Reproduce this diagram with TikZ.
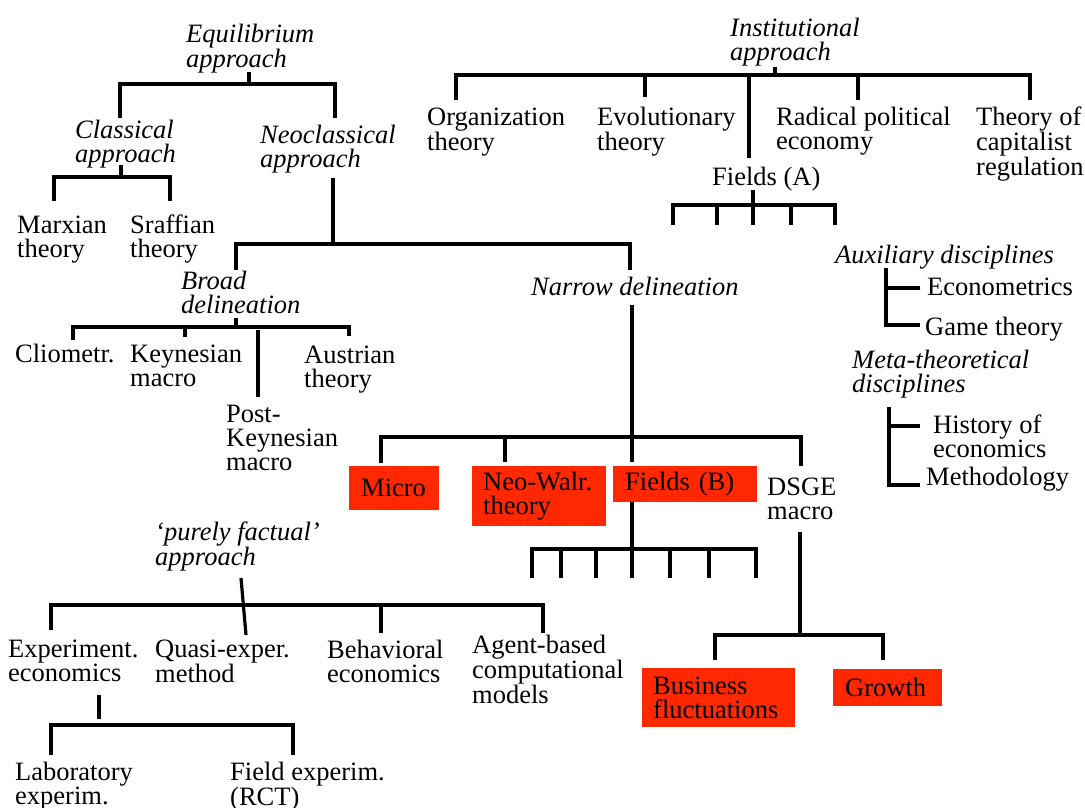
\documentclass[tikz,border=0pt]{standalone}
\usepackage{fontspec}
\setmainfont{Liberation Serif}
\definecolor{boxred}{RGB}{255,40,0}
\newcommand\myst{\rule{0pt}{20pt}}
\begin{document}
\begin{tikzpicture}[x=1pt,y=-1pt,
  txt/.style={anchor=north west, inner sep=0pt, align=left, font=\fontsize{26.5}{24}\selectfont},
  itx/.style={txt, font=\fontsize{26.5}{24}\selectfont\itshape},
  redbox/.style={anchor=north west, fill=boxred, inner ysep=0pt, align=left, font=\fontsize{26.5}{24}\selectfont},
  conn/.style={line width=3.2pt}]
\useasboundingbox[fill=white] (0,0) rectangle (1085,808);

% ---------- text nodes ----------
\node[itx] (equi) at (186,22) {\myst Equilibrium\\approach};
\node[itx] (clas) at (75,118) {\myst Classical\\approach};
\node[itx] (neo) at (260,123) {\myst Neoclassical\\approach};
\node[txt] (marx) at (17,213) {\myst Marxian\\theory};
\node[txt] (sraf) at (130,213) {\myst Sraffian\\theory};
\node[itx] (broad) at (181,269) {\myst Broad\\delineation};
\node[txt] (clio) at (15,342) {\myst Cliometr.};
\node[txt] (keyn) at (130,342) {\myst Keynesian\\macro};
\node[txt] (aust) at (304,343) {\myst Austrian\\theory};
\node[txt] (postk) at (226,402) {\myst Post-\\Keynesian\\macro};
\node[itx] (narrow) at (531,275) {\myst Narrow delineation};

\node[itx] (inst) at (730,16) {\myst Institutional\\approach};
\node[txt] (org) at (427,105) {\myst Organization\\theory};
\node[txt] (evo) at (597,105) {\myst Evolutionary\\theory};
\node[txt] (rad) at (776,105) {\myst Radical political\\economy};
\node[txt] (reg) at (976,105) {\myst Theory of\\capitalist\\regulation};
\node[txt] (fa) at (712,165) {\myst Fields (A)};

\node[itx] (aux) at (835,243) {\myst Auxiliary disciplines};
\node[txt] (econ) at (927,275) {\myst Econometrics};
\node[txt] (game) at (925,315) {\myst Game theory};
\node[itx] (meta) at (852,348) {\myst Meta-theoretical\\disciplines};
\node[txt] (hist) at (933,413) {\myst History of\\economics};
\node[txt] (meth) at (926,465) {\myst Methodology};

\node[redbox, inner xsep=12pt, text width=66pt, minimum height=44pt] (micro) at (349,466) {Micro};
\node[redbox, inner xsep=11pt, text width=112pt, minimum height=60pt] (nw) at (472,466) {\mbox{Neo-Walr.}\\theory};
\node[redbox, inner xsep=12pt, text width=120pt, minimum height=36pt] (fb) at (613,466) {Fields (B)};
\node[txt] (dsge) at (767,475) {\myst DSGE\\macro};
\node[redbox, inner xsep=11pt, text width=131pt, minimum height=59pt] (bus) at (642,668) {Business\\fluctuations};
\node[redbox, inner xsep=12pt, text width=85pt, minimum height=37pt] (gro) at (833,669) {Growth};

\node[itx] (pf) at (155,520) {\myst ‘purely factual’\\approach};
\node[txt] (exp) at (8,637) {\myst Experiment.\\economics};
\node[txt] (quasi) at (155,637) {\myst Quasi-exper.\\method};
\node[txt] (beh) at (327,638) {\myst Behavioral\\economics};
\node[txt] (agent) at (472,633) {\myst Agent-based\\computational\\models};
\node[txt] (lab) at (15,760) {\myst Laboratory\\experim.};
\node[txt] (field) at (230,760) {\myst Field experim.\\(RCT)};

% ---------- connectors ----------
% Equilibrium
\coordinate (eqS) at (249,72); \coordinate (eqB) at (249,84);
\coordinate (eqL) at (120,118); \coordinate (eqR) at (335,118);
\draw[conn] (eqS) -- (eqB);
\draw[conn] (eqL) |- (eqB) -| (eqR);
% Classical
\coordinate (clS) at (121,165); \coordinate (clB) at (121,177);
\coordinate (clL) at (54,201); \coordinate (clR) at (170,201);
\draw[conn] (clS) -- (clB);
\draw[conn] (clL) |- (clB) -| (clR);
% Neoclassical
\coordinate (neS) at (333,178); \coordinate (neB) at (333,244);
\coordinate (neL) at (236,270); \coordinate (neR) at (630,270);
\draw[conn] (neS) -- (neB);
\draw[conn] (neL) |- (neB) -| (neR);
% Broad delineation
\coordinate (brS) at (236,318); \coordinate (brB) at (236,327);
\coordinate (brL) at (73,340); \coordinate (brR) at (349,336);
\coordinate (brK1) at (185,327); \coordinate (brK2) at (185,337);
\coordinate (pk1) at (258,330); \coordinate (pk2) at (258,397);
\draw[conn] (brS) -- (brB);
\draw[conn] (brL) |- (brB) -| (brR);
\draw[conn] (brK1) -- (brK2);
\draw[conn] (pk1) -- (pk2);
% Narrow delineation
\coordinate (naS) at (632,305); \coordinate (naB) at (632,437);
\coordinate (naL) at (381,463); \coordinate (naR) at (801,466);
\draw[conn] (naS) -- (naB);
\draw[conn] (naL) |- (naB) -| (naR);
\draw[conn] (505,437) -- (505,462);
\draw[conn] (naB) -- (632,462);
% Fields (B)
\coordinate (fbB) at (632,549);
\draw[conn] (fb.south -| fbB) -- (fbB);
\draw[conn] (532,578) |- (fbB) -| (756,578);
\foreach \x in {561,596,632,670,709} \draw[conn] (\x,549) -- (\x,578);
% DSGE
\coordinate (dsS) at (800,532); \coordinate (dsB) at (800,635);
\coordinate (dsL) at (715,660); \coordinate (dsR) at (883,660);
\draw[conn] (dsS) -- (dsB);
\draw[conn] (dsL) |- (dsB) -| (dsR);
% purely factual
\coordinate (pfS) at (241,578); \coordinate (pfE) at (246,635);
\coordinate (pfL) at (51,630); \coordinate (pfB) at (543,605); \coordinate (pfR) at (543,633);
\draw[conn] (pfS) -- (pfE);
\draw[conn] (pfL) |- (pfB) -- (pfR);
\draw[conn] (381,605) -- (381,633);
% Experiment
\coordinate (exS) at (99,695); \coordinate (exT) at (99,719); \coordinate (exB) at (99,725);
\coordinate (exL) at (51,755); \coordinate (exR) at (293,755);
\draw[conn] (exS) -- (exT);
\draw[conn] (exL) |- (exB) -| (exR);
% Institutional
\coordinate (inS) at (775,67); \coordinate (inB) at (775,75);
\coordinate (inL) at (456,100); \coordinate (inR) at (1030,100);
\draw[conn] (inS) -- (inB);
\draw[conn] (inL) |- (inB) -| (inR);
\draw[conn] (645,75) -- (645,97);
\draw[conn] (858,75) -- (858,100);
\draw[conn] (749,75) -- (749,158);
% Fields (A)
\coordinate (faS) at (753,190); \coordinate (faB) at (753,205);
\coordinate (faL) at (673,225); \coordinate (faR) at (835,225);
\draw[conn] (faS) -- (faB);
\draw[conn] (faL) |- (faB) -| (faR);
\foreach \x in {717,753,791} \draw[conn] (\x,205) -- (\x,225);
% Auxiliary
\coordinate (auT) at (886,268); \coordinate (auC) at (886,325);
\draw[conn] (auT) -- (auC) -- (920,325);
\draw[conn] (886,288) -- (920,288);
% Meta
\coordinate (meT) at (889,407); \coordinate (meC) at (889,485);
\draw[conn] (meT) -- (meC) -- (920,485);
\draw[conn] (889,426) -- (920,426);
\end{tikzpicture}
\end{document}
